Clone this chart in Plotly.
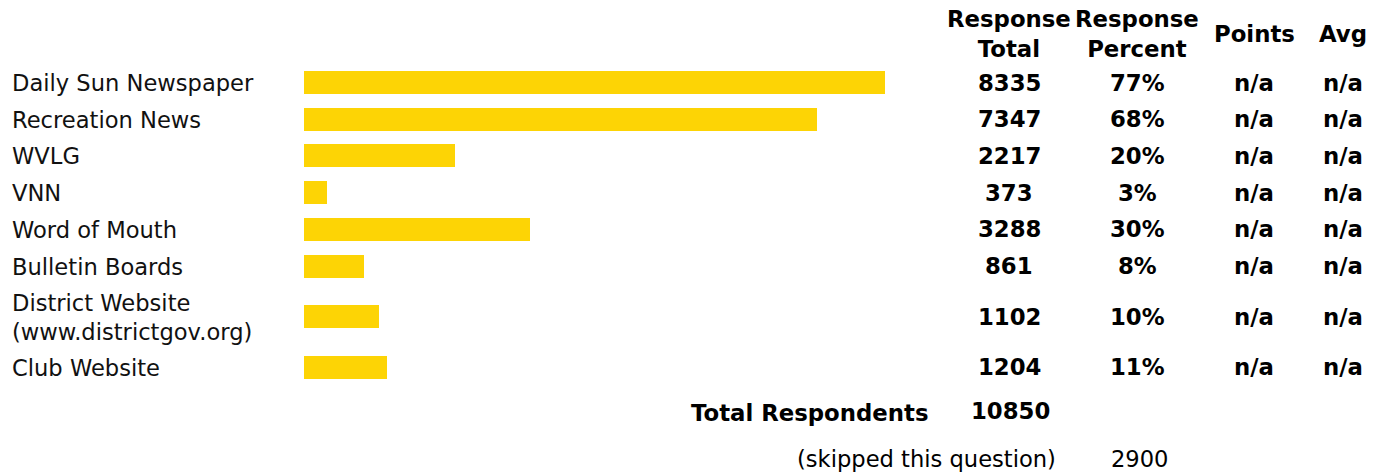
import plotly.graph_objects as go

# ---- data ----
categories = ["Daily Sun Newspaper", "Recreation News", "WVLG", "VNN", "Word of Mouth",
              "Bulletin Boards", "District Website<br>(www.districtgov.org)", "Club Website"]
response_total = [8335, 7347, 2217, 373, 3288, 861, 1102, 1204]
response_percent = [77, 68, 20, 3, 30, 8, 10, 11]
points = ["n/a"] * 8
avg = ["n/a"] * 8
headers = ["Response<br>Total", "Response<br>Percent", "Points", "Avg"]
total_respondents = 10850
skipped = 2900

# ---- layout constants ----
W, H = 1381, 472
FONT = "DejaVu Sans, Verdana, sans-serif"
FS = 22.6
FSB = 22.8
BAR_COLOR = "#FDD405"
col_x = [1009, 1137, 1254, 1343]

# row centres (pixel units, y axis runs top->bottom in pixels)
row_h, extra_line, top = 36.7, 27.6, 64.2
centers = []
for c in categories:
    n = c.count("<br>") + 1
    h = row_h + (n - 1) * extra_line
    centers.append(top + h / 2)
    top += h

fig = go.Figure()
fig.add_trace(go.Bar(
    x=response_percent, y=centers, orientation="h", width=23,
    marker=dict(color=BAR_COLOR, line=dict(width=0)),
    hoverinfo="skip", showlegend=False,
))

ann = []
def txt(text, x, y, bold=False, xanchor="center"):
    ann.append(dict(text=f"<b>{text}</b>" if bold else text, x=x / W, xref="paper",
                    y=y, yref="y", xanchor=xanchor, yanchor="middle", showarrow=False,
                    font=dict(family=FONT, size=FSB if bold else FS, color="#000000"),
                    align="center"))

for c, yc, t, p, pt, a in zip(categories, centers, response_total, response_percent, points, avg):
    ann.append(dict(text=c, x=10 / W, xref="paper", y=yc + 0.5, yref="y", xanchor="left",
                    yanchor="middle", showarrow=False, align="left",
                    font=dict(family=FONT, size=FS, color="#111111")))
    txt(str(t), col_x[0], yc, bold=True)
    txt(f"{p}%", col_x[1], yc, bold=True)
    txt(pt, col_x[2], yc, bold=True)
    txt(a, col_x[3], yc, bold=True)

for h, cx in zip(headers, col_x):
    txt(h, cx, 34, bold=True)

txt("Total Respondents", 931, 413, bold=True, xanchor="right")
txt(str(total_respondents), 1010, 411, bold=True)
txt("(skipped this question)", 1058, 459, xanchor="right")
txt(str(skipped), 1140, 459)

fig.update_layout(
    width=W, height=H, margin=dict(l=0, r=0, t=0, b=0),
    paper_bgcolor="white", plot_bgcolor="white",
    xaxis=dict(domain=[304 / W, 1058.5 / W], range=[0, 100], visible=False, fixedrange=True),
    yaxis=dict(domain=[0, 1], range=[H, 0], visible=False, fixedrange=True),
    annotations=ann, bargap=0,
)

fig.write_html("out.html", config={"displayModeBar": False})
